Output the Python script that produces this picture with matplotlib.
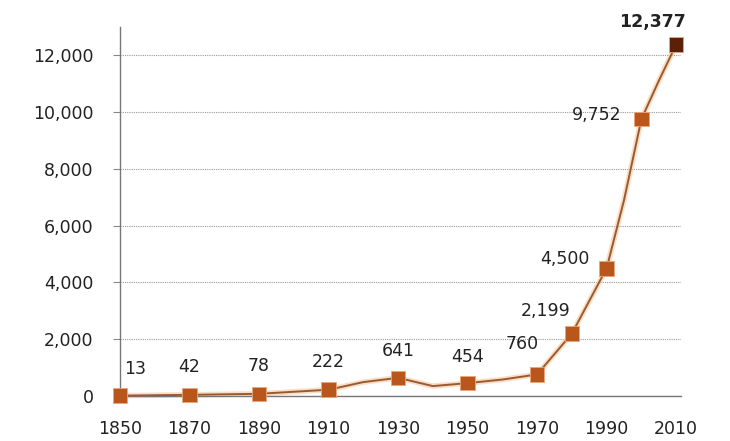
import matplotlib.pyplot as plt
from matplotlib.ticker import FuncFormatter

# Годы с маркерами и подписанными значениями
marker_years = [1850, 1870, 1890, 1910, 1930, 1950, 1970, 1980, 1990, 2000, 2010]
marker_values = [13, 42, 78, 222, 641, 454, 760, 2199, 4500, 9752, 12377]

# Промежуточные точки линии (оценка по рисунку)
extra_years = [1920, 1940, 1960, 1995, 2005]
extra_values = [490, 350, 580, 6900, 11100]

y_ticks = [0, 2000, 4000, 6000, 8000, 10000, 12000]
x_ticks = [1850, 1870, 1890, 1910, 1930, 1950, 1970, 1990, 2010]

line_pts = sorted(zip(marker_years + extra_years, marker_values + extra_values))
line_years = [p[0] for p in line_pts]
line_values = [p[1] for p in line_pts]

fig = plt.figure(figsize=(7.3, 4.41), dpi=100)
ax = fig.add_axes([0.1644, 0.102, 0.769, 0.837])

# Линия с лёгким "свечением"
ax.plot(line_years, line_values, color='#F5C9A0', linewidth=4, alpha=0.6,
        solid_capstyle='round', zorder=2, clip_on=False)
ax.plot(line_years, line_values, color='#9A5A30', linewidth=1.4, zorder=3, clip_on=False)

colors = ['#B8561C'] * (len(marker_years) - 1) + ['#5B2108']
ax.scatter(marker_years, marker_values, marker='s', s=110, c=colors,
           edgecolors='#E9A77A', linewidths=0.6, zorder=4, clip_on=False)

# Подписи значений
label_offsets = {
    1850: (11, 19), 1870: (0, 20), 1890: (0, 20), 1910: (0, 20),
    1930: (0, 19), 1950: (0, 19), 1970: (-11, 22), 1980: (-19, 16),
    1990: (-30, 7), 2000: (-32, 3), 2010: (-17, 16),
}
for yr, val in zip(marker_years, marker_values):
    dx, dy = label_offsets[yr]
    ax.annotate(f'{val:,}', (yr, val), xytext=(dx, dy), textcoords='offset points',
                ha='center', va='center', fontsize=12.5, color='#222222',
                fontweight='bold' if yr == 2010 else 'normal')

ax.set_xlim(1850, 2011.5)
ax.set_ylim(0, 13000)
ax.set_yticks(y_ticks)
ax.set_xticks(x_ticks)
ax.yaxis.set_major_formatter(FuncFormatter(lambda v, p: f'{int(v):,}'))
ax.tick_params(axis='y', length=5, color='#888888', labelsize=12.5,
               labelcolor='#222222', pad=14)
ax.tick_params(axis='x', length=0, labelsize=12.5, labelcolor='#222222', pad=17)

ax.grid(axis='y', color='#999999', linestyle=(0, (1, 1)), linewidth=0.8)
ax.set_axisbelow(True)
for s in ['top', 'right']:
    ax.spines[s].set_visible(False)
for s in ['left', 'bottom']:
    ax.spines[s].set_color('#777777')
    ax.spines[s].set_linewidth(1.0)

fig.savefig('out.png', dpi=100)
